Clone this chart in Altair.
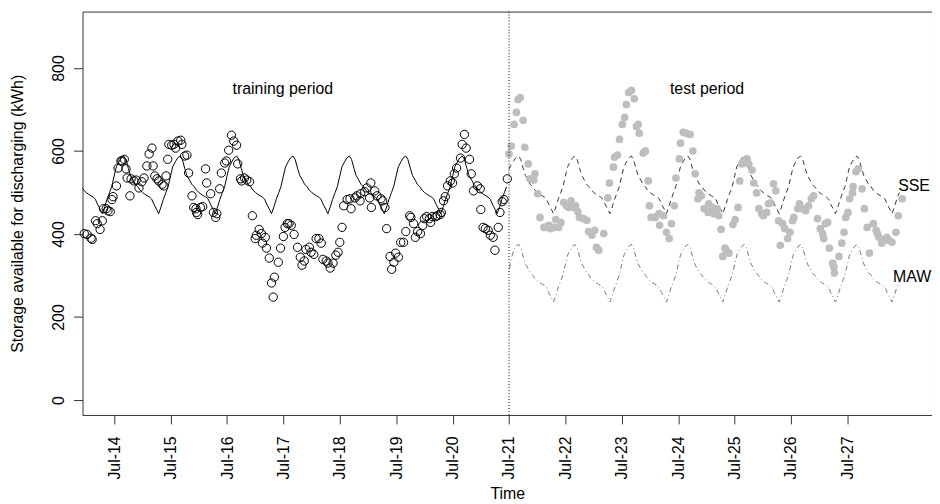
import altair as alt
import pandas as pd

# ---------------- data ----------------
# training observations (decimal year, kWh)
TRAIN_T = [2013.97, 2014.02, 2014.09, 2014.11, 2014.17, 2014.20, 2014.25, 2014.29, 2014.31, 2014.36,
           2014.39, 2014.43, 2014.46, 2014.48, 2014.54, 2014.57, 2014.62, 2014.64, 2014.68, 2014.71,
           2014.73, 2014.78, 2014.80, 2014.85, 2014.89, 2014.94, 2014.99, 2015.03, 2015.08, 2015.12,
           2015.17, 2015.19, 2015.22, 2015.26, 2015.29, 2015.35, 2015.38, 2015.42, 2015.45, 2015.47,
           2015.52, 2015.56, 2015.59, 2015.63, 2015.68, 2015.70, 2015.75, 2015.79, 2015.82, 2015.88,
           2015.91, 2015.95, 2015.96, 2015.98, 2016.03, 2016.07, 2016.12, 2016.14, 2016.21, 2016.26,
           2016.30, 2016.32, 2016.37, 2016.40, 2016.46, 2016.49, 2016.53, 2016.58, 2016.62, 2016.67,
           2016.69, 2016.74, 2016.76, 2016.81, 2016.85, 2016.90, 2016.95, 2017.00, 2017.02, 2017.07,
           2017.11, 2017.13, 2017.18, 2017.20, 2017.25, 2017.29, 2017.32, 2017.34, 2017.41, 2017.45,
           2017.50, 2017.53, 2017.57, 2017.60, 2017.64, 2017.69, 2017.75, 2017.80, 2017.83, 2017.87,
           2017.90, 2017.96, 2017.99, 2018.04, 2018.08, 2018.13, 2018.17, 2018.20, 2018.26, 2018.29,
           2018.33, 2018.38, 2018.43, 2018.47, 2018.50, 2018.54, 2018.57, 2018.63, 2018.68, 2018.70,
           2018.77, 2018.80, 2018.86, 2018.87, 2018.94, 2018.98, 2019.03, 2019.05, 2019.06, 2019.12,
           2019.16, 2019.23, 2019.26, 2019.30, 2019.33, 2019.39, 2019.42, 2019.46, 2019.49, 2019.54,
           2019.58, 2019.63, 2019.67, 2019.74, 2019.76, 2019.81, 2019.84, 2019.88, 2019.93, 2019.97,
           2020.00, 2020.04, 2020.09, 2020.11, 2020.14, 2020.20, 2020.23, 2020.28, 2020.30, 2020.34,
           2020.37, 2020.41, 2020.46, 2020.50, 2020.53, 2020.57, 2020.64, 2020.67, 2020.71, 2020.74,
           2020.80, 2020.83, 2020.87, 2020.94, 2020.99, 2021.00, 2021.04, 2021.08, 2021.13, 2021.17,
           2021.22, 2021.25, 2021.31, 2021.34, 2021.38, 2021.41, 2021.47]
TRAIN_V = [401, 399, 390, 387, 432, 425, 411, 432, 461, 461,
           456, 454, 483, 490, 516, 559, 576, 576, 580, 557,
           535, 492, 533, 528, 530, 511, 526, 535, 564, 593,
           607, 564, 540, 533, 528, 520, 516, 540, 580, 616,
           614, 616, 607, 624, 626, 616, 588, 590, 547, 492,
           464, 461, 452, 447, 464, 466, 557, 523, 497, 452,
           440, 449, 509, 547, 571, 576, 602, 638, 624, 614,
           569, 533, 528, 535, 530, 526, 444, 389, 397, 411,
           401, 378, 392, 366, 342, 282, 248, 296, 332, 366,
           394, 416, 425, 425, 421, 399, 368, 344, 325, 335,
           363, 368, 356, 351, 389, 389, 378, 339, 335, 330,
           318, 330, 349, 356, 380, 416, 468, 483, 485, 461,
           487, 492, 480, 497, 502, 511, 487, 523, 464, 504,
           492, 485, 480, 464, 413, 346, 315, 332, 354, 344,
           380, 380, 406, 444, 440, 425, 392, 406, 401, 421,
           437, 442, 437, 428, 442, 442, 444, 447, 452, 480,
           490, 516, 528, 523, 545, 559, 583, 616, 640, 607,
           580, 545, 504, 516, 509, 459, 416, 413, 409, 397,
           392, 361, 416, 452, 478, 483, 533]

# test observations (decimal year, kWh)
TEST_T = [2021.50, 2021.54, 2021.59, 2021.63, 2021.66, 2021.70, 2021.75, 2021.78, 2021.84, 2021.87,
          2021.94, 2021.96, 2022.01, 2022.05, 2022.12, 2022.15, 2022.21, 2022.24, 2022.30, 2022.33,
          2022.38, 2022.42, 2022.47, 2022.52, 2022.56, 2022.60, 2022.65, 2022.68, 2022.72, 2022.75,
          2022.82, 2022.88, 2022.91, 2022.97, 2023.02, 2023.05, 2023.09, 2023.18, 2023.25, 2023.28,
          2023.35, 2023.37, 2023.42, 2023.46, 2023.51, 2023.55, 2023.58, 2023.62, 2023.67, 2023.72,
          2023.76, 2023.79, 2023.81, 2023.88, 2023.92, 2023.97, 2023.99, 2024.02, 2024.09, 2024.16,
          2024.17, 2024.24, 2024.29, 2024.34, 2024.38, 2024.43, 2024.46, 2024.52, 2024.54, 2024.59,
          2024.64, 2024.71, 2024.76, 2024.80, 2024.85, 2024.87, 2024.91, 2024.96, 2025.03, 2025.04,
          2025.10, 2025.13, 2025.19, 2025.22, 2025.26, 2025.29, 2025.33, 2025.35, 2025.40, 2025.47,
          2025.51, 2025.56, 2025.59, 2025.63, 2025.66, 2025.72, 2025.75, 2025.81, 2025.84, 2025.89,
          2025.93, 2025.98, 2026.01, 2026.07, 2026.10, 2026.14, 2026.19, 2026.23, 2026.28, 2026.31,
          2026.35, 2026.39, 2026.44, 2026.48, 2026.53, 2026.55, 2026.62, 2026.65, 2026.70, 2026.76,
          2026.81, 2026.86, 2026.90, 2026.97, 2027.02, 2027.06, 2027.08, 2027.11, 2027.15, 2027.18,
          2027.24, 2027.26, 2027.27, 2027.35, 2027.40, 2027.44, 2027.47, 2027.51, 2027.54, 2027.59,
          2027.60, 2027.65, 2027.69, 2027.76, 2027.80, 2027.85, 2027.89, 2027.96, 2028.01, 2028.03,
          2028.06, 2028.11, 2028.15, 2028.20, 2028.24, 2028.29, 2028.36, 2028.40, 2028.47]
TEST_V = [593, 612, 664, 693, 724, 729, 674, 609, 569, 533,
          530, 545, 497, 440, 416, 416, 421, 413, 416, 435,
          416, 428, 476, 468, 464, 480, 464, 468, 454, 440,
          437, 433, 406, 397, 409, 368, 361, 401, 487, 523,
          561, 585, 590, 628, 664, 681, 712, 741, 746, 726,
          659, 664, 643, 595, 600, 528, 468, 440, 440, 449,
          421, 444, 404, 389, 425, 468, 535, 581, 619, 645,
          643, 640, 600, 545, 485, 499, 492, 461, 452, 473,
          464, 449, 461, 444, 411, 346, 366, 361, 354, 423,
          435, 464, 528, 569, 576, 581, 569, 554, 523, 499,
          461, 449, 444, 452, 473, 475, 521, 504, 432, 373,
          425, 413, 389, 404, 432, 440, 461, 473, 461, 456,
          468, 485, 492, 437, 413, 401, 389, 425, 428, 366,
          330, 320, 306, 346, 378, 404, 440, 452, 485, 499,
          514, 550, 557, 509, 461, 416, 354, 425, 409, 401,
          392, 378, 385, 392, 385, 380, 404, 444, 485]

# fitted line over the training period, values on the 1st and 15th of each month
FIT_START, FIT_END = "2013-12-01", "2021-06-15"
FIT_TRAIN = [514, 506,
             500, 496, 492, 489, 484, 472, 460, 449, 466, 483, 500, 514, 540, 562, 574, 583, 588, 580, 558, 541, 530, 520, 514, 506,
             500, 496, 492, 489, 484, 472, 460, 449, 466, 483, 500, 514, 540, 562, 574, 583, 588, 580, 558, 541, 530, 520, 514, 506,
             500, 496, 492, 489, 484, 472, 460, 449, 466, 483, 500, 514, 540, 562, 574, 583, 588, 580, 558, 541, 530, 520, 514, 506,
             500, 496, 492, 489, 484, 472, 460, 449, 466, 483, 500, 514, 540, 562, 574, 583, 588, 580, 558, 541, 530, 520, 514, 506,
             500, 496, 492, 489, 484, 472, 460, 449, 466, 483, 500, 514, 540, 562, 574, 583, 588, 580, 558, 541, 530, 520, 514, 506,
             500, 496, 492, 489, 484, 472, 460, 449, 466, 483, 500, 514, 540, 562, 574, 583, 588, 580, 558, 541, 530, 520, 514, 506,
             500, 496, 492, 489, 484, 472, 460, 449, 466, 483, 500, 514, 540, 562, 574, 583, 588, 580, 558, 541, 530, 520, 514, 506,
             500, 496, 492, 489, 484, 472, 460, 449, 466, 483, 500, 514]

# forecasts over the test period (1st and 15th of each month)
FC_START, FC_END = "2021-07-01", "2028-06-01"
FIT_SSE = [556, 568, 577, 584, 588, 580, 558, 541, 530, 520, 514, 506,
           500, 496, 492, 489, 484, 472, 460, 449, 466, 483, 500, 514, 540, 562, 574, 583, 588, 580, 558, 541, 530, 520, 514, 506,
           500, 496, 492, 489, 484, 472, 460, 449, 466, 483, 500, 514, 540, 562, 574, 583, 588, 580, 558, 541, 530, 520, 514, 506,
           500, 496, 492, 489, 484, 472, 460, 449, 466, 483, 500, 514, 540, 562, 574, 583, 588, 580, 558, 541, 530, 520, 514, 506,
           500, 496, 492, 489, 484, 472, 460, 449, 466, 483, 500, 514, 540, 562, 574, 583, 588, 580, 558, 541, 530, 520, 514, 506,
           500, 496, 492, 489, 484, 472, 460, 449, 466, 483, 500, 514, 540, 562, 574, 583, 588, 580, 558, 541, 530, 520, 514, 506,
           500, 496, 492, 489, 484, 472, 460, 449, 466, 483, 500, 514, 540, 562, 574, 583, 588, 580, 558, 541, 530, 520, 514, 506,
           500, 496, 492, 489, 484, 472, 460, 449, 466, 483, 500]
FIT_MAW = [308, 340, 362, 371, 375, 367, 345, 328, 317, 307, 301, 293,
           287, 283, 279, 276, 271, 259, 247, 236, 253, 270, 287, 301, 327, 349, 361, 370, 375, 367, 345, 328, 317, 307, 301, 293,
           287, 283, 279, 276, 271, 259, 247, 236, 253, 270, 287, 301, 327, 349, 361, 370, 375, 367, 345, 328, 317, 307, 301, 293,
           287, 283, 279, 276, 271, 259, 247, 236, 253, 270, 287, 301, 327, 349, 361, 370, 375, 367, 345, 328, 317, 307, 301, 293,
           287, 283, 279, 276, 271, 259, 247, 236, 253, 270, 287, 301, 327, 349, 361, 370, 375, 367, 345, 328, 317, 307, 301, 293,
           287, 283, 279, 276, 271, 259, 247, 236, 253, 270, 287, 301, 327, 349, 361, 370, 375, 367, 345, 328, 317, 307, 301, 293,
           287, 283, 279, 276, 271, 259, 247, 236, 253, 270, 287, 301, 327, 349, 361, 370, 375, 367, 345, 328, 317, 307, 301, 293,
           287, 283, 279, 276, 271, 259, 247, 236, 253, 270, 285]

SPLIT_DATE = "2021-07-01"
X_TICK_YEARS = list(range(2014, 2028))
Y_TICKS = [0, 200, 400, 600, 800]
X_DOMAIN = [(2013, 12, 8), (2028, 12, 30)]
Y_DOMAIN = [-36, 936]

LABEL_TEXT = ["training period", "test period"]
LABEL_T = [2017.49, 2025.01]
LABEL_V = [749, 749]
SIDE_TEXT = ["SSE", "MAW"]
SIDE_T = [2028.40, 2028.31]
SIDE_V = [516, 297]


def to_date(t):
    return pd.Timestamp("2014-07-01") + pd.to_timedelta((t - 2014.5) * 365.25, unit="D")


train_df = pd.DataFrame({"date": [to_date(t) for t in TRAIN_T], "value": TRAIN_V})
test_df = pd.DataFrame({"date": [to_date(t) for t in TEST_T], "value": TEST_V})
fit_df = pd.DataFrame({"date": pd.date_range(FIT_START, FIT_END, freq="SMS"), "value": FIT_TRAIN})
fc_dates = pd.date_range(FC_START, FC_END, freq="SMS")
sse_df = pd.DataFrame({"date": fc_dates, "value": FIT_SSE})
maw_df = pd.DataFrame({"date": fc_dates, "value": FIT_MAW})
split_df = pd.DataFrame({"date": [pd.Timestamp(SPLIT_DATE)]})
lab_df = pd.DataFrame({"date": [to_date(t) for t in LABEL_T], "value": LABEL_V, "text": LABEL_TEXT})
side_df = pd.DataFrame({"date": [to_date(t) for t in SIDE_T], "value": SIDE_V, "text": SIDE_TEXT})

FONT = "Liberation Sans"

x_enc = alt.X(
    "date:T",
    scale=alt.Scale(domain=[alt.DateTime(year=y, month=m, date=d) for (y, m, d) in X_DOMAIN]),
    axis=alt.Axis(
        values=[alt.DateTime(year=y, month=7, date=1) for y in X_TICK_YEARS],
        format="%b-%y", labelAngle=270, labelAlign="right", labelBaseline="middle",
        tickSize=9, labelPadding=12, title="Time", titleY=84, titleBaseline="alphabetic",
        labelFlush=False, labelOverlap=False,
    ),
)
y_enc = alt.Y(
    "value:Q",
    scale=alt.Scale(domain=Y_DOMAIN, nice=False, zero=False),
    axis=alt.Axis(
        values=Y_TICKS, labelAngle=270, labelAlign="center", labelBaseline="alphabetic",
        tickSize=9, labelPadding=10, title="Storage available for discharging (kWh)",
        titleAngle=270, titleX=-60, titleY=203, titleAlign="center", titleBaseline="alphabetic",
        labelFlush=False, labelOverlap=False,
    ),
)

fit_line = alt.Chart(fit_df).mark_line(color="black", strokeWidth=1, clip=True).encode(x=x_enc, y=y_enc)
sse_line = alt.Chart(sse_df).mark_line(color="#333333", strokeWidth=1, strokeDash=[5, 4], clip=True).encode(x=x_enc, y=y_enc)
maw_line = alt.Chart(maw_df).mark_line(color="#777777", strokeWidth=1, strokeDash=[1, 3, 5, 3], clip=True).encode(x=x_enc, y=y_enc)
train_pts = alt.Chart(train_df).mark_point(shape="circle", filled=False, color="black", size=70, strokeWidth=1, opacity=1).encode(x=x_enc, y=y_enc)
test_pts = alt.Chart(test_df).mark_circle(color="#BEBEBE", size=60, opacity=1).encode(x=x_enc, y=y_enc)
split_rule = alt.Chart(split_df).mark_rule(color="black", strokeWidth=1, strokeDash=[1, 2]).encode(x=x_enc)
labels = alt.Chart(lab_df).mark_text(font=FONT, fontSize=16, align="center", baseline="middle", color="black").encode(x=x_enc, y=y_enc, text="text:N")
side = alt.Chart(side_df).mark_text(font=FONT, fontSize=16, align="left", baseline="middle", color="black").encode(x=x_enc, y=y_enc, text="text:N")

chart = alt.layer(
    fit_line, sse_line, maw_line, train_pts, test_pts, split_rule, labels, side
).properties(
    width=855, height=406,
    autosize=alt.AutoSizeParams(type="none"),
    padding={"left": 75, "top": 2, "right": 0, "bottom": 86},
).configure_view(
    stroke="#333333", strokeWidth=1
).configure_axis(
    domain=False, grid=False, tickColor="#333333", labelColor="black", titleColor="black",
    labelFont=FONT, titleFont=FONT, labelFontSize=16, titleFontSize=16, titleFontWeight="normal",
)

chart.save("out.html", embed_options={"renderer": "svg", "actions": False})
